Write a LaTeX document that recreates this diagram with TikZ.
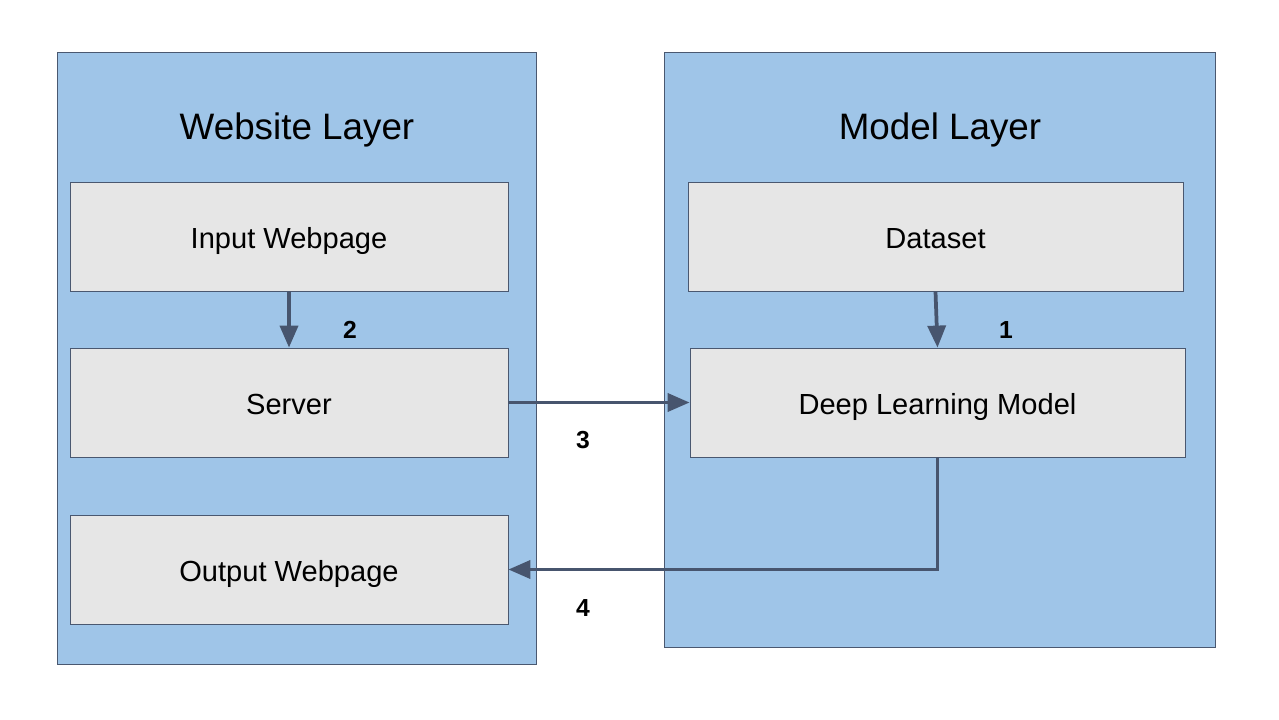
\documentclass[tikz,border=0pt]{standalone}
\usepackage{fontspec}
\setmainfont{Liberation Sans}
\usetikzlibrary{arrows.meta,positioning}
\definecolor{panelfill}{HTML}{9FC5E8}
\definecolor{panelline}{HTML}{4A5870}
\definecolor{boxfill}{HTML}{E6E6E6}
\definecolor{arrowcol}{HTML}{47556E}
\tikzset{
  panel/.style={draw=panelline, line width=0.6pt, fill=panelfill, inner sep=0pt, anchor=north west},
  box/.style={draw=panelline, line width=0.6pt, fill=boxfill, inner sep=0pt, minimum width=328.5pt, minimum height=81.75pt, text height=18pt, text depth=0pt, font=\fontsize{21.8}{26}\selectfont},
  title/.style={font=\fontsize{27.6}{32}\selectfont},
  numlabel/.style={font=\fontsize{18.5}{22}\selectfont\bfseries},
  conn/.style={draw=arrowcol, line width=2.8pt, -{Triangle[length=16.5pt,width=13.5pt]}}
}
\begin{document}
\begin{tikzpicture}[x=0.75pt,y=-0.75pt]
\useasboundingbox (0,0) rectangle (1279,719);
\fill[white] (0,0) rectangle (1279,719);
% panels
\node[panel, minimum width=359.25pt, minimum height=459pt] (wl) at (57,52) {};
\node[panel, minimum width=413.25pt, minimum height=446.25pt] (ml) at (664,52) {};
\node[title] (wlt) at (297,130) {Website Layer};
\node[title] (mlt) at (940,130) {Model Layer};
% boxes
\node[box] (inp) at (289,236.5) {Input Webpage};
\node[box] (srv) at (289,402.5) {Server};
\node[box] (out) at (289,569.5) {Output Webpage};
\node[box, minimum width=371.25pt] (ds) at (935.5,236.5) {Dataset};
\node[box, minimum width=371.25pt] (dlm) at (937.5,402.5) {Deep Learning Model};
% connectors
\draw[conn] (inp.south) -- (srv.north);
\draw[conn] (ds.south) -- (dlm.north);
\draw[conn] (srv.east) -- (dlm.west);
\draw[conn, line join=miter] (dlm.south) |- (out.east);
% labels
\node[numlabel] (n1) at (1006,330) {1};
\node[numlabel] (n2) at (350,330) {2};
\node[numlabel] (n3) at (583,440) {3};
\node[numlabel] (n4) at (583,608) {4};
\end{tikzpicture}
\end{document}
